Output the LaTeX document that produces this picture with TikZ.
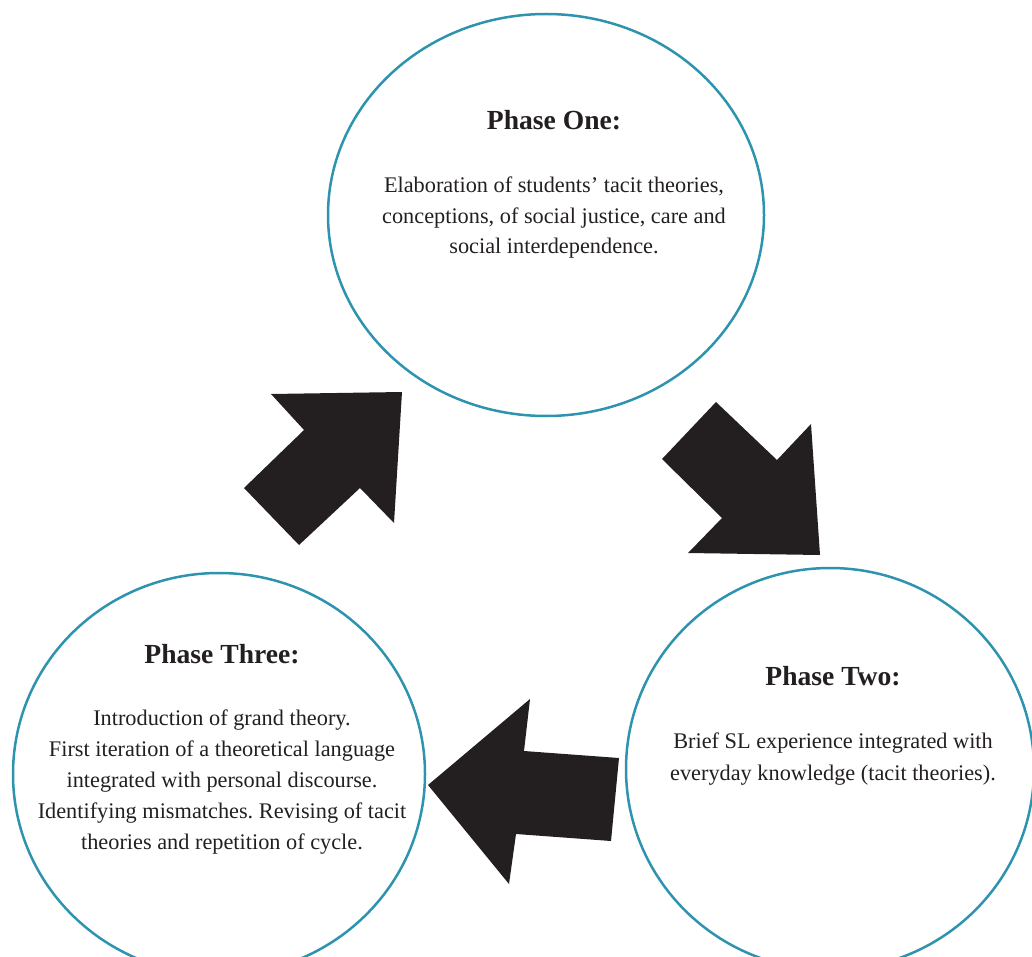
\documentclass[tikz,border=0pt]{standalone}
\usepackage{fontspec}
\setmainfont{Liberation Serif}
\usepackage{xcolor}
\usetikzlibrary{shapes.geometric}
\definecolor{ink}{HTML}{231F20}
\definecolor{phaseblue}{RGB}{46,147,175}
\frenchspacing

\begin{document}
\begin{tikzpicture}[x=0.5pt,y=-0.5pt,
		phase/.style={draw=phaseblue, line width=1.25pt, ellipse, inner sep=0pt},
		head/.style={anchor=base, text=ink, font=\bfseries\fontsize{13.8}{16}\selectfont},
		body/.style={anchor=base, align=center, text=ink, font=\fontsize{11.15}{15}\selectfont},
		bigarrow/.style={fill=ink}]
	\useasboundingbox (0,0) rectangle (1032,957);
	\clip (0,0) rectangle (1032,957);
	% the three phases
	\node[phase, minimum width=218pt, minimum height=201pt] (one) at (546,215) {};
	\node[phase, minimum width=204pt, minimum height=201pt] (two) at (830,769) {};
	\node[phase, minimum width=206pt, minimum height=201pt] (three) at (219,774) {};
	\node[head] (onehead) at (554,130) {Phase One:};
	\node[body] (onetext) at ([yshift=-61.5pt]onehead.base) {Elaboration of students’ tacit theories,\\conceptions, of social justice, care and\\social interdependence.};
	\node[head] (twohead) at (833,685) {Phase Two:};
	\node[body, font=\fontsize{11.15}{16}\selectfont] (twotext) at ([yshift=-47.5pt]twohead.base) {Brief SL experience integrated with\\everyday knowledge (tacit theories).};
	\node[head] (threehead) at (222,663) {Phase Three:};
	\node[body, font=\fontsize{11.15}{15.4}\selectfont] (threetext) at ([yshift=-93pt]threehead.base) {Introduction of grand theory.\\First iteration of a theoretical language\\integrated with personal discourse.\\Identifying mismatches. Revising of tacit\\theories and repetition of cycle.};
	% block arrows of the cycle
	\fill[bigarrow] (716,402) -- (777,460) -- (811,424) -- (820,555) -- (688,553) -- (722,518) -- (662,459) -- cycle;
	\fill[bigarrow] (428,785) -- (530,699) -- (524,751) -- (619,758) -- (611,841) -- (516,834) -- (509,884) -- cycle;
	\fill[bigarrow] (271,394) -- (402,392) -- (394,523) -- (360,488) -- (299,545) -- (244,488) -- (304,430) -- cycle;
\end{tikzpicture}
\end{document}
